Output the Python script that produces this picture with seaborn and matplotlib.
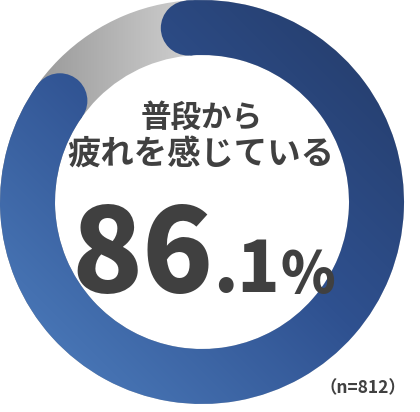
import numpy as np
import matplotlib
matplotlib.use("Agg")
import matplotlib.pyplot as plt
from matplotlib.patches import Wedge, Circle
import seaborn as sns

# %%
# Data
labels = ["疲れを感じている", "感じていない"]
values = [86.1, 13.9]
n_total = 812
title_lines = ["普段から", "疲れを感じている"]

# %%
# Style
sns.set_theme(style="white")
plt.rcParams["font.family"] = ["Noto Sans CJK JP", "DejaVu Sans"]

blue_cmap = sns.blend_palette(["#243b68", "#2f5190", "#4b7aba"], as_cmap=True)
gray_cmap = sns.blend_palette(["#979797", "#d2d2d2"], as_cmap=True)
text_color = "#404040"

W, H = 420, 412
cx, cy = 202, 210
R_out, R_in = 202, 147
ring_w = R_out - R_in
mid_r = (R_out + R_in) / 2

fig = plt.figure(figsize=(4.2, 4.12), dpi=100)
ax = fig.add_axes([0, 0, 1, 1])
ax.set_xlim(0, W)
ax.set_ylim(0, H)
ax.axis("off")

xx, yy = np.meshgrid(np.linspace(0, W, W), np.linspace(0, H, H))

# gray background ring, horizontal gradient
gray_t = np.clip((xx - 30) / 170, 0, 1)
gray_ring = Wedge((cx, cy), R_out, 0, 360, width=ring_w, facecolor="none", edgecolor="none")
ax.add_patch(gray_ring)
im = ax.imshow(gray_t, cmap=gray_cmap, extent=(0, W, 0, H), origin="lower", vmin=0, vmax=1, zorder=1)
im.set_clip_path(gray_ring)

# blue arc for the share, diagonal gradient (dark top-right -> light bottom-left)
span = values[0] / 100 * 360
start = 94.5
end = start - span
blue_t = np.clip(((W - xx) + (H - yy)) / (W + H) * 1.15 - 0.05, 0, 1)
blue_shapes = [Wedge((cx, cy), R_out, end, start, width=ring_w, facecolor="none", edgecolor="none")]
for ang in (start, end):
    a = np.deg2rad(ang)
    blue_shapes.append(Circle((cx + mid_r * np.cos(a), cy + mid_r * np.sin(a)), ring_w / 2,
                              facecolor="none", edgecolor="none"))
for shp in blue_shapes:
    ax.add_patch(shp)
    im = ax.imshow(blue_t, cmap=blue_cmap, extent=(0, W, 0, H), origin="lower", vmin=0, vmax=1, zorder=2)
    im.set_clip_path(shp)

# center text
ax.text(202, 294, title_lines[0], ha="center", va="center", fontsize=22, fontweight="bold", color=text_color, zorder=5)
ax.text(201, 257, title_lines[1], ha="center", va="center", fontsize=24, fontweight="bold", color=text_color, zorder=5)

# big percentage: three sizes laid out side by side, group centred
whole, frac = f"{values[0]:.1f}".split(".")
pieces = [(whole, 84), ("." + frac, 50), ("%", 40)]
base_y = 120
renderer = fig.canvas.get_renderer()
texts = [ax.text(0, base_y, s, ha="left", va="baseline", fontsize=fs, fontweight="heavy",
                 color=text_color, zorder=5) for s, fs in pieces]
widths = [t.get_window_extent(renderer).width for t in texts]
x = 203 - sum(widths) / 2
for t, w in zip(texts, widths):
    t.set_x(x)
    x += w

ax.text(406, 24, f"（n={n_total}）", ha="right", va="center", fontsize=12.5, fontweight="bold", color=text_color, zorder=5)

fig.savefig("out.png", dpi=100, facecolor="white")
